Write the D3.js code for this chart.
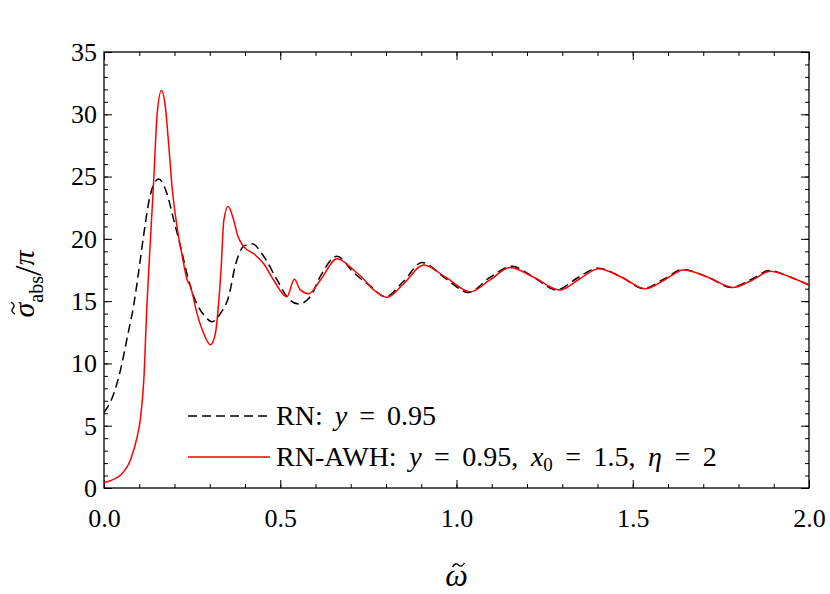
<!DOCTYPE html>
<html>
<head>
<meta charset="utf-8">
<script src="https://cdn.jsdelivr.net/npm/d3@7"></script>
<style>
  body { margin: 0; background: #fff; }
  text { font-family: "Liberation Serif", "DejaVu Serif", serif; fill: #000; }
</style>
</head>
<body>
<div id="chart"></div>
<script>
// RN: y = 0.95  (dashed black)
var rnX = [0.000, 0.028, 0.047, 0.066, 0.085, 0.099, 0.113, 0.132, 0.155, 0.179,
           0.198, 0.217, 0.240, 0.255, 0.283, 0.307, 0.330, 0.354, 0.372, 0.396,
           0.420, 0.453, 0.491, 0.519, 0.552, 0.585, 0.614, 0.661, 0.708, 0.756,
           0.798, 0.850, 0.902, 0.970, 1.034, 1.095, 1.157, 1.220, 1.283, 1.345,
           1.400, 1.470, 1.530, 1.590, 1.642, 1.715, 1.780, 1.840, 1.887, 1.950, 2.000];
var rnY = [6.05, 7.6, 9.5, 12.1, 14.8, 17.5, 20.4, 23.6, 24.8, 23.6,
           21.5, 19.4, 16.7, 15.35, 13.9, 13.35, 14.0, 15.4, 17.8, 19.4,
           19.6, 18.6, 16.7, 15.35, 14.77, 15.35, 17.0, 18.6, 17.3, 16.2,
           15.35, 16.6, 18.1, 16.8, 15.7, 16.9, 17.8, 16.9, 15.9, 16.9,
           17.65, 16.9, 16.0, 16.8, 17.55, 16.9, 16.1, 16.8, 17.45, 16.9, 16.3];

// RN-AWH: y = 0.95, x0 = 1.5, eta = 2  (solid red)
var awhX = [0.000, 0.020, 0.047, 0.075, 0.094, 0.104, 0.113, 0.122, 0.127, 0.141,
            0.151, 0.163, 0.174, 0.184, 0.193, 0.207, 0.222, 0.236, 0.245, 0.264,
            0.283, 0.302, 0.316, 0.325, 0.332, 0.340, 0.352, 0.368, 0.380, 0.396,
            0.425, 0.453, 0.481, 0.519, 0.540, 0.557, 0.581, 0.614, 0.661, 0.708,
            0.732, 0.765, 0.803, 0.850, 0.907, 0.970, 1.039, 1.095, 1.152, 1.220,
            1.294, 1.350, 1.403, 1.470, 1.535, 1.590, 1.644, 1.715, 1.785, 1.840,
            1.889, 1.950, 2.000];
var awhY = [0.43, 0.6, 1.04, 2.25, 4.1, 5.7, 8.7, 14.8, 17.5, 24.7,
            30.1, 31.9, 30.6, 27.4, 24.2, 21.0, 18.6, 16.7, 16.2, 14.0,
            12.4, 11.5, 12.4, 14.8, 17.5, 21.5, 22.6, 21.5, 20.2, 19.4,
            18.8, 18.0, 16.7, 15.35, 16.75, 15.9, 15.6, 16.7, 18.4, 17.5,
            16.9, 15.9, 15.3, 16.4, 17.9, 16.9, 15.75, 16.7, 17.7, 16.9,
            15.9, 16.8, 17.6, 16.9, 16.0, 16.7, 17.5, 16.9, 16.1, 16.7,
            17.4, 16.9, 16.3];

var xMajor = [0, 0.5, 1.0, 1.5, 2.0];
var yMajor = [0, 5, 10, 15, 20, 25, 30, 35];

var W = 830, H = 594;
var margin = {top: 52, right: 21, bottom: 106, left: 104},
    width = W - margin.left - margin.right,
    height = H - margin.top - margin.bottom;

var svg = d3.select("#chart")
  .append("svg")
    .attr("width", W)
    .attr("height", H);

var g = svg.append("g")
    .attr("transform", "translate(" + margin.left + "," + margin.top + ")");

var x = d3.scaleLinear().domain([0, 2]).range([0, width]);
var y = d3.scaleLinear().domain([0, 35]).range([height, 0]);

var xMinor = d3.range(0, 2.0001, 0.1);
var yMinor = d3.range(0, 35.001, 1);

function styleAxis(sel) {
  sel.select(".domain").remove();
  sel.selectAll(".tick line").attr("stroke", "#000").attr("stroke-width", 1);
}

// minor ticks, all four sides, pointing inward
g.append("g").attr("transform", "translate(0," + height + ")")
  .call(d3.axisBottom(x).tickValues(xMinor).tickSize(-4).tickFormat(""))
  .call(styleAxis);
g.append("g")
  .call(d3.axisTop(x).tickValues(xMinor).tickSize(-4).tickFormat(""))
  .call(styleAxis);
g.append("g")
  .call(d3.axisLeft(y).tickValues(yMinor).tickSize(-4).tickFormat(""))
  .call(styleAxis);
g.append("g").attr("transform", "translate(" + width + ",0)")
  .call(d3.axisRight(y).tickValues(yMinor).tickSize(-4).tickFormat(""))
  .call(styleAxis);

// major ticks
var xAx = g.append("g").attr("transform", "translate(0," + height + ")")
  .call(d3.axisBottom(x).tickValues(xMajor).tickSize(-8).tickPadding(21)
        .tickFormat(d3.format(".1f")))
  .call(styleAxis);
g.append("g")
  .call(d3.axisTop(x).tickValues(xMajor).tickSize(-8).tickFormat(""))
  .call(styleAxis);
var yAx = g.append("g")
  .call(d3.axisLeft(y).tickValues(yMajor).tickSize(-8).tickPadding(7))
  .call(styleAxis);
g.append("g").attr("transform", "translate(" + width + ",0)")
  .call(d3.axisRight(y).tickValues(yMajor).tickSize(-8).tickFormat(""))
  .call(styleAxis);

xAx.selectAll("text").attr("font-size", 26);
yAx.selectAll("text").attr("font-size", 26);

// frame
g.append("rect")
  .attr("width", width).attr("height", height)
  .attr("fill", "none").attr("stroke", "#000").attr("stroke-width", 1.3);

// curves
var line = d3.line()
  .x(function(d) { return x(d[0]); })
  .y(function(d) { return y(d[1]); })
  .curve(d3.curveMonotoneX);

var rnData = d3.zip(rnX, rnY);
var awhData = d3.zip(awhX, awhY);

g.append("clipPath").attr("id", "clip")
  .append("rect").attr("width", width).attr("height", height);

g.append("path")
  .datum(rnData)
  .attr("clip-path", "url(#clip)")
  .attr("fill", "none")
  .attr("stroke", "#000")
  .attr("stroke-width", 1.5)
  .attr("stroke-dasharray", "9,5")
  .attr("d", line);

g.append("path")
  .datum(awhData)
  .attr("clip-path", "url(#clip)")
  .attr("fill", "none")
  .attr("stroke", "#ff0000")
  .attr("stroke-width", 1.5)
  .attr("d", line);

// legend
var leg = svg.append("g");
leg.append("line")
  .attr("x1", 188).attr("x2", 270).attr("y1", 416).attr("y2", 416)
  .attr("stroke", "#000").attr("stroke-width", 1.5).attr("stroke-dasharray", "9,5");
leg.append("line")
  .attr("x1", 188).attr("x2", 270).attr("y1", 457).attr("y2", 457)
  .attr("stroke", "#ff0000").attr("stroke-width", 1.5);

var t1 = leg.append("text").attr("x", 276).attr("y", 425).attr("font-size", 28)
  .attr("xml:space", "preserve").style("word-spacing", "5px");
t1.append("tspan").text("RN: ");
t1.append("tspan").attr("font-style", "italic").text("y");
t1.append("tspan").text(" = 0.95");

var t2 = leg.append("text").attr("x", 276).attr("y", 466).attr("font-size", 28)
  .attr("xml:space", "preserve").style("word-spacing", "5.5px");
t2.append("tspan").text("RN-AWH: ");
t2.append("tspan").attr("font-style", "italic").text("y");
t2.append("tspan").text(" = 0.95, ");
t2.append("tspan").attr("font-style", "italic").text("x");
t2.append("tspan").attr("font-size", 19).attr("dy", 5).text("0");
t2.append("tspan").attr("dy", -5).text(" = 1.5, ");
t2.append("tspan").attr("font-style", "italic").text("η");
t2.append("tspan").text(" = 2");

// axis titles; tilde accents drawn as small paths
var tildePath = "M-6,2 Q-3,-3 0,0 T6,-2";
var xcx = margin.left + width / 2;
svg.append("text")
  .attr("x", xcx).attr("y", 586)
  .attr("text-anchor", "middle").attr("font-size", 32)
  .attr("font-style", "italic")
  .text("ω");
svg.append("path")
  .attr("transform", "translate(" + (xcx + 2) + ",565)")
  .attr("d", tildePath)
  .attr("fill", "none").attr("stroke", "#000").attr("stroke-width", 1.4);

var yg = svg.append("g").attr("transform", "translate(34,284) rotate(-90)");
var yl = yg.append("text")
  .attr("text-anchor", "middle").attr("font-size", 30);
yl.append("tspan").attr("font-style", "italic").text("σ");
yl.append("tspan").attr("font-size", 20).attr("dy", 9).text("abs");
yl.append("tspan").attr("font-size", 38).attr("dy", -2).text("/");
yl.append("tspan").attr("font-style", "italic").attr("dy", -7).text("π");

var s0 = yl.node().getStartPositionOfChar(0).x,
    s1 = yl.node().getEndPositionOfChar(0).x;
yg.append("path")
  .attr("transform", "translate(" + ((s0 + s1) / 2 + 2) + ",-21)")
  .attr("d", tildePath)
  .attr("fill", "none").attr("stroke", "#000").attr("stroke-width", 1.4);
</script>
</body>
</html>
